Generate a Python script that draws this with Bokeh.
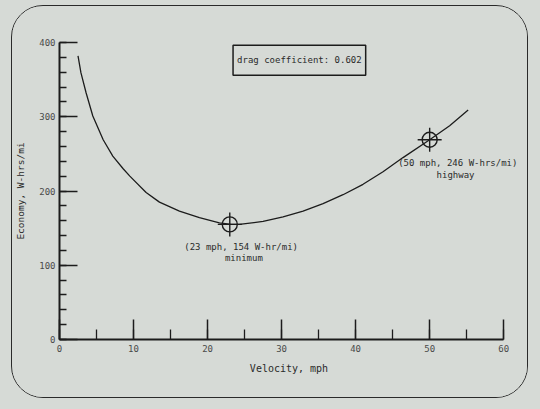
from bokeh.plotting import figure
from bokeh.models import Range1d, SingleIntervalTicker, Label, LabelSet, ColumnDataSource
from bokeh.embed import file_html
from bokeh.resources import INLINE
from bokeh.core.properties import value

# Velocity (mph) vs energy economy (W-hrs/mi)
velocity = [2.5, 2.9, 3.6, 4.5, 5.9, 7.2, 8.6, 9.5, 11.7, 13.5, 16.2, 18.9,
            21.6, 23.2, 24.3, 27.5, 30.2, 32.9, 35.6, 38.3, 41.0, 43.7, 46.4,
            50.0, 52.7, 55.2]
economy = [382, 359, 332, 301, 269, 247, 230, 220, 198, 185, 173, 164,
           157, 155, 155, 159, 165, 173, 183, 195, 209, 226, 245,
           269, 288, 309]

point_x = [23, 50]
point_y = [155, 269]

ann_line1 = ["(23  mph, 154 W-hr/mi)", "(50 mph, 246 W-hrs/mi)"]
ann_line2 = ["minimum", "highway"]
ann_x1 = [24.9, 53.8]
ann_y1 = [125, 238]
ann_x2 = [24.9, 53.5]
ann_y2 = [110, 221]

box_text = "drag coefficient: 0.602"
box_x, box_y = 32.4, 376

x_title = "Velocity, mph"
y_title = "Economy, W-hrs/mi"

BG = "#d6dad6"
INK = "#1c1c1c"
TXT = "#2a2a2a"
FONT = "DejaVu Sans Mono"

p = figure(width=517, height=393, output_backend="svg", toolbar_location=None,
           x_range=Range1d(0, 62), y_range=Range1d(0, 400),
           min_border_left=47, min_border_right=11, min_border_top=36,
           min_border_bottom=60)
p.background_fill_color = BG
p.border_fill_color = BG
p.outline_line_color = None
p.grid.visible = False
p.styles = {"border": "1.6px solid #2a2a2a", "border-radius": "32px",
            "overflow": "hidden", "margin-left": "11px", "margin-top": "5px"}

p.xaxis.ticker = SingleIntervalTicker(interval=10, num_minor_ticks=2)
p.yaxis.ticker = SingleIntervalTicker(interval=100, num_minor_ticks=5)
p.xaxis.bounds = (0, 60)
for ax in (p.xaxis, p.yaxis):
    ax.axis_line_color = INK
    ax.axis_line_width = 2
    ax.major_tick_line_color = INK
    ax.minor_tick_line_color = INK
    ax.major_tick_line_width = 1.5
    ax.minor_tick_line_width = 1.3
    ax.major_tick_out = 0
    ax.minor_tick_out = 0
    ax.major_label_text_font = FONT
    ax.major_label_text_font_size = "9px"
    ax.major_label_text_color = "#4a4a4a"
    ax.axis_label_text_font = FONT
    ax.axis_label_text_font_style = "normal"
    ax.axis_label_text_color = TXT
p.xaxis.axis_label_text_font_size = "10px"
p.yaxis.axis_label_text_font_size = "9.5px"
p.xaxis.major_tick_in = 20
p.xaxis.minor_tick_in = 10
p.yaxis.major_tick_in = 18
p.yaxis.minor_tick_in = 7
p.xaxis.major_label_standoff = 5
p.yaxis.major_label_standoff = 4
p.xaxis.axis_label = x_title
p.yaxis.axis_label = y_title
p.xaxis.axis_label_standoff = 8
p.yaxis.axis_label_standoff = 10

p.line(velocity, economy, line_color=INK, line_width=1.3, line_join="round")

p.scatter(point_x, point_y, marker="circle", size=15, fill_color=None,
          line_color=INK, line_width=1.4)
p.scatter(point_x, point_y, marker="cross", size=24, line_color=INK,
          line_width=1.4)

src1 = ColumnDataSource(dict(x=ann_x1, y=ann_y1, t=ann_line1))
src2 = ColumnDataSource(dict(x=ann_x2, y=ann_y2, t=ann_line2))
for src in (src1, src2):
    p.add_layout(LabelSet(x="x", y="y", text="t", source=src,
                          text_font=value(FONT), text_font_size=value("9px"),
                          text_align="center", text_baseline="middle",
                          text_color=TXT))

lab = Label(x=box_x, y=box_y, text=box_text, text_font=FONT,
            text_font_size="9px", text_align="center",
            text_baseline="middle", text_color=TXT,
            border_line_color=INK, border_line_width=1.5,
            background_fill_color=None,
            padding=dict(left=4, right=4, top=10, bottom=10))
p.add_layout(lab)

html = file_html(p, INLINE)
html = html.replace("</head>",
                    "<style>html, body { background: %s; }</style></head>" % BG, 1)
open("out.html", "w").write(html)
